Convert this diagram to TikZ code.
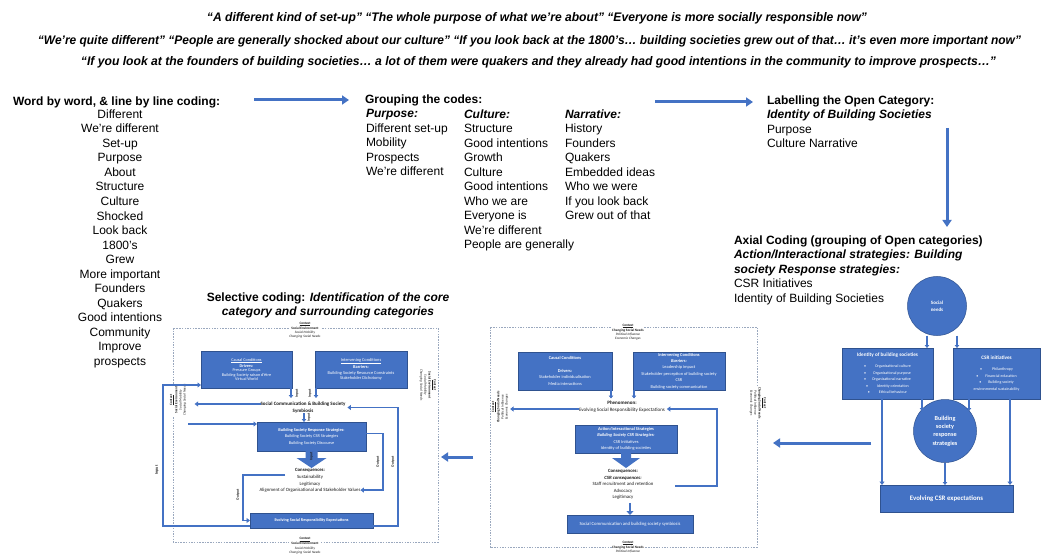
\documentclass[tikz,border=0pt]{standalone}
\usepackage{fontspec}
\usepackage{graphicx}
\setmainfont{Liberation Sans}
\newfontfamily\calfont{Carlito}
\usetikzlibrary{arrows.meta}

\definecolor{boxblue}{HTML}{4472C4}
\definecolor{boxedge}{HTML}{2F528F}
\definecolor{framegray}{HTML}{9AA8BE}
\definecolor{inkgray}{HTML}{1A1A1A}

% one interview quotation, set to a given width
\newcommand{\quoteline}[2]{\resizebox{#1}{9pt}{\bfseries\itshape #2}}

\tikzset{
  every node/.style={inner sep=0pt, outer sep=0pt},
  bodytext/.style={font=\fontsize{12}{14.5}\selectfont, align=left, anchor=north west},
  stagearrow/.style={draw=boxblue, line width=3pt, -{Triangle[length=7pt,width=9pt]}},
  flow/.style={draw=boxblue, line width=1.6pt, -{Triangle[length=3.5pt,width=5pt]}},
  shortflow/.style={draw=boxblue, line width=1.4pt, -{Triangle[length=3pt,width=4.5pt]}},
  bluebox/.style={draw=boxedge, fill=boxblue, line width=0.5pt, text=white, align=center},
  bluedisc/.style={circle, draw=boxedge, fill=boxblue, line width=0.5pt, text=white, align=center},
  codeframe/.style={draw=framegray, line width=0.5pt, dash pattern=on 1.5pt off 1.2pt},
  ctx/.style={font=\calfont\fontsize{3.4}{4.1}\selectfont, align=center, fill=white, inner sep=0.4pt, text=inkgray},
  flowtag/.style={font=\calfont\bfseries\fontsize{3.6}{4}\selectfont, text=inkgray, rotate=90},
  smalltext/.style={font=\calfont\fontsize{4.8}{6.6}\selectfont, align=center, text=inkgray},
}

\begin{document}
\begin{tikzpicture}[x=1pt,y=-1pt]
\fill[white] (0,0) rectangle (1042,556);
\useasboundingbox (0,0) rectangle (1042,556);

% ---------------- interview quotations ----------------
\node[anchor=base] (q1) at (537,22) {\quoteline{660pt}{“A different kind of set-up” “The whole purpose of what we’re about” “Everyone is more socially responsible now”}};
\node[anchor=base] (q2) at (529.5,45) {\quoteline{983pt}{“We’re quite different” “People are generally shocked about our culture” “If you look back at the 1800’s… building societies grew out of that… it’s even more important now”}};
\node[anchor=base] (q3) at (538.5,65.5) {\quoteline{915pt}{“If you look at the founders of building societies… a lot of them were quakers and they already had good intentions in the community to improve prospects…”}};

% ---------------- open coding ----------------
\node[anchor=base west, font=\fontsize{12}{14.5}\selectfont\bfseries] (wtitle) at (13,105.3) {Word by word, \& line by line coding:};
\node[font=\fontsize{12}{14.55}\selectfont, align=center, anchor=north] (words) at (120,109.5)
  {Different\\We’re different\\Set-up\\Purpose\\About\\Structure\\Culture\\Shocked\\Look back\\1800’s\\Grew\\More important\\Founders\\Quakers\\Good intentions\\Community\\Improve\\prospects};

\node[anchor=base west, font=\fontsize{12}{14.5}\selectfont\bfseries] (gtitle) at (365,103.8) {Grouping the codes:};
\node[bodytext] (purpose) at (366,109.6) {\textbf{\textit{Purpose:}}\\Different set-up\\Mobility\\Prospects\\We’re different};
\node[bodytext] (culture) at (464,109.6) {\textbf{\textit{Culture:}}\\Structure\\Good intentions\\Growth\\Culture\\Good intentions\\Who we are\\Everyone is\\We’re different\\People are generally};
\node[bodytext] (narrative) at (565,109.6) {\textbf{\textit{Narrative:}}\\History\\Founders\\Quakers\\Embedded ideas\\Who we were\\If you look back\\Grew out of that};

\node[bodytext] (ltitle) at (767,95.5) {\textbf{Labelling the Open Category:}\\\textbf{\textit{Identity of Building Societies}}\\Purpose\\Culture Narrative};

\node[bodytext] (atext) at (734,235.5) {\textbf{Axial Coding (grouping of Open categories)}\\\textbf{\textit{Action/Interactional strategies: Building}}\\\textbf{\textit{society Response strategies:}}\\CSR Initiatives\\Identity of Building Societies};

\node[font=\fontsize{12}{14}\selectfont, align=center, anchor=north] (stitle) at (328,292.5) {\textbf{Selective coding: \textit{Identification of the core}}\\\textbf{\textit{category and surrounding categories}}};

% ---------------- arrows between the coding stages ----------------
\coordinate (s1a) at (254,100); \coordinate (s1b) at (349,100);
\coordinate (s2a) at (655,102); \coordinate (s2b) at (753,102);
\coordinate (s3a) at (947,128); \coordinate (s3b) at (947,227);
\coordinate (s4a) at (871,443); \coordinate (s4b) at (773,443);
\coordinate (s5a) at (473,457); \coordinate (s5b) at (441,457);
\draw[stagearrow] (s1a) -- (s1b);
\draw[stagearrow] (s2a) -- (s2b);
\draw[stagearrow] (s3a) -- (s3b);
\draw[stagearrow] (s4a) -- (s4b);
\draw[stagearrow] (s5a) -- (s5b);

% ---------------- axial coding model ----------------
\node[bluedisc, minimum size=59pt, font=\calfont\bfseries\fontsize{5}{7}\selectfont] (needs) at (937,306) {Social\\needs};
\node[bluebox, minimum width=91pt, minimum height=51pt, font=\calfont\fontsize{4}{6.5}\selectfont] (idbox) at (887.5,373.5)
  {{\bfseries\fontsize{5.2}{6.5}\selectfont Identity of building societies}\\[4.5pt]
   •\hspace{9pt}Organisational culture\\
   •\hspace{7pt}Organisational purpose\\
   •\hspace{6pt}Organisational narrative\\
   •\hspace{9pt}Identity orientation\\
   •\hspace{9pt}Ethical behaviour};
\node[bluebox, minimum width=87pt, minimum height=51pt, font=\calfont\fontsize{4}{6.5}\selectfont] (csrbox) at (996.5,373.5)
  {{\bfseries\fontsize{5.2}{6.5}\selectfont CSR initiatives}\\[4.5pt]
   •\hspace{10pt}Philanthropy\\
   •\hspace{7pt}Financial education\\
   •\hspace{7pt}Building society\\
   environmental sustainability};
\node[bluedisc, minimum size=63pt, font=\calfont\bfseries\fontsize{6.2}{8.3}\selectfont] (bsresp) at (945,431) {Building\\society\\response\\strategies};
\node[bluebox, minimum width=133pt, minimum height=27pt, font=\calfont\bfseries\fontsize{6.8}{8}\selectfont] (csrexp) at (946.5,498.5) {Evolving CSR expectations};

\draw[shortflow] ([xshift=-10pt]needs.south) -- ([xshift=-10pt]needs.south |- idbox.north);
\draw[shortflow] ([xshift=20pt]needs.south) -- ([xshift=20pt]needs.south |- csrbox.north);
\draw[shortflow] ([xshift=34.5pt]idbox.south) -- ++(0,12);
\draw[shortflow] ([xshift=-27.5pt]csrbox.south) -- ++(0,12);
\draw[flow] ([xshift=-5.5pt]idbox.south) -- ([xshift=-5.5pt]idbox.south |- csrexp.north);
\draw[flow] ([xshift=13.5pt]csrbox.south) -- ([xshift=13.5pt]csrbox.south |- csrexp.north);
\draw[shortflow] (bsresp.south) -- (bsresp.south |- csrexp.north);

% ---------------- paradigm model: CSR expectations ----------------
\draw[codeframe] (490,327) rectangle (757,547);
\node[ctx] (mctxtop) at (628,332) {\textbf{\underline{Context}}\\\textbf{Changing Social Needs}\\\textit{Political Influence}\\\textit{Economic Changes}};
\node[ctx] (mctxbot) at (628,547) {\textbf{\underline{Context}}\\\textbf{Changing Social Needs}\\\textit{Political Influence}};
\node[ctx, rotate=90] (mctxleft) at (500,407) {\textbf{\underline{Context}}\\\textbf{Changing Social Needs}\\\textit{Political Influence}\\\textit{Economic Changes}};
\node[ctx, rotate=-90] (mctxright) at (758,403) {\textbf{\underline{Context}}\\\textbf{Changing Social Needs}\\\textit{Political Influence}\\\textit{Economic Changes}};

\node[bluebox, minimum width=94pt, minimum height=38pt, font=\calfont\fontsize{4.4}{6.4}\selectfont] (mcausal) at (565,371)
  {\textbf{Causal Conditions}\\[6.4pt]\textbf{Drivers:}\\Stakeholder individualisation\\Media interactions};
\node[bluebox, minimum width=92pt, minimum height=38pt, font=\calfont\fontsize{4.4}{6.4}\selectfont] (minterv) at (679,371)
  {\textbf{Intervening Conditions}\\\textbf{\textit{Barriers:}}\\Leadership impact\\Stakeholder perception of building society\\CSR\\Building society communication};
\draw[shortflow] ([xshift=-1pt]mcausal.south east) -- ++(0,8.5);
\draw[shortflow] ([xshift=1pt]minterv.south west) -- ++(0,8.5);

\node[smalltext, font=\calfont\fontsize{5}{7}\selectfont] (mphen) at (622,406.5) {\textbf{Phenomenon:}\\Evolving Social Responsibility Expectations};
\draw[flow] ([yshift=-2.5pt]mphen.west) -- ++(-69,0);

\node[bluebox, minimum width=102pt, minimum height=28pt, font=\calfont\fontsize{4.4}{6.4}\selectfont] (maction) at (626,439)
  {\textbf{Action/Interactional Strategies}\\\textbf{\textit{Building Society CSR Strategies:}}\\CSR Initiatives\\Identity of building societies};
\fill[boxblue] ([xshift=-5pt]maction.south) -- ++(10,0) -- ++(0,5) -- ++(9,0) -- ++(-14,10) -- ++(-14,-10) -- ++(9,0) -- cycle;

\node[smalltext, anchor=north, font=\calfont\fontsize{4.8}{6.5}\selectfont] (mcons) at (623,469.8)
  {\textbf{Consequences:}\\\textbf{\textit{CSR consequences:}}\\Staff recruitment and retention\\Advocacy\\Legitimacy};
\coordinate (mconsout) at (675,486);
\draw[flow] (mconsout) -- ++(42,0) |- ([xshift=2pt,yshift=-2.5pt]mphen.east);

\node[bluebox, minimum width=126pt, minimum height=18pt, font=\calfont\fontsize{4.7}{6}\selectfont] (msoc) at (630,524) {Social Communication and building society symbiosis};
\draw[draw=boxblue, line width=2.6pt, -{Triangle[length=4pt,width=7pt]}] ([xshift=7pt]mcons.south) ++(0,3) -- ([xshift=7pt]mcons.south |- msoc.north);

% ---------------- paradigm model: core category ----------------
\draw[codeframe] (173,328) rectangle (438,542);
\node[ctx] (lctxtop) at (305,330) {\textbf{\underline{Context}}\\\textbf{Social Environment}\\\textit{Social Mobility}\\\textit{Changing Social Needs}};
\node[ctx] (lctxbot) at (305,545.5) {\textbf{\underline{Context}}\\\textbf{Social Environment}\\\textit{Social Mobility}\\\textit{Changing Social Needs}};
\node[ctx, rotate=90] (lctxleft) at (178,400) {\textbf{\underline{Context}}\\\textbf{Social Environment}\\\textit{Social Mobility}\\\textit{Changing Social Needs}};
\node[ctx, rotate=-90] (lctxright) at (428,385) {\textbf{\underline{Context}}\\\textbf{Social Environment}\\\textit{Social Mobility}\\\textit{Changing Social Needs}};

\node[bluebox, minimum width=91pt, minimum height=37pt, font=\calfont\fontsize{4.2}{4.6}\selectfont] (lcausal) at (246.5,369.5)
  {\underline{Causal Conditions}\\\textbf{Drivers:}\\Pressure Groups\\Building Society raison d’être\\Virtual World};
\node[bluebox, minimum width=92pt, minimum height=37pt, font=\calfont\fontsize{4.4}{5.8}\selectfont] (linterv) at (361,369.5)
  {\underline{Intervening Conditions}\\\textbf{Barriers:}\\Building Society Resource Constraints\\Stakeholder Dichotomy};
\draw[shortflow] ([xshift=-1pt]lcausal.south east) -- ++(0,10);
\draw[shortflow] ([xshift=1pt]linterv.south west) -- ++(0,10);
\node[flowtag] (tin1) at (297,393) {Input};
\node[flowtag] (tin2) at (310,393) {Input};

\node[smalltext, font=\calfont\bfseries\fontsize{5}{7}\selectfont] (lsym) at (303,407.5) {Social Communication \& Building Society\\Symbiosis};
\draw[flow] ([yshift=3.5pt]lsym.west) -- ++(-66,0);

\node[bluebox, minimum width=109pt, minimum height=29pt, font=\calfont\fontsize{4.3}{6.5}\selectfont] (lresp) at (311.5,436.5)
  {\textbf{Building Society Response Strategies:}\\Building Society CSR Strategies\\Building Society Discourse};
\draw[shortflow] ([xshift=1pt]lsym.south) -- ([xshift=1pt]lsym.south |- lresp.north);
\node[flowtag] (tin3) at (309,417) {Input};
\coordinate (lenvin) at (188,424);
\draw[flow] (lenvin) -- (lenvin -| lresp.west);

\fill[boxblue] ([xshift=-6pt]lresp.south) -- ++(12,0) -- ++(0,7) -- ++(9,0) -- ++(-15,10) -- ++(-15,-10) -- ++(9,0) -- cycle;
\node[flowtag] (tin4) at (311.5,456) {Input};

\node[smalltext, anchor=north] (lcons) at (310,468.8)
  {\textbf{Consequences:}\\Sustainability\\Legitimacy\\Alignment of Organisational and Stakeholder Values};

\node[bluebox, minimum width=123pt, minimum height=15pt, font=\calfont\bfseries\fontsize{4.2}{5}\selectfont] (levolve) at (311.5,520.5) {Evolving Social Responsibility Expectations};

\draw[flow] ([yshift=3pt]lresp.east) -- ++(17,0) |- ([yshift=2.5pt]lcons.south east);
\node[flowtag] (tout1) at (378,462) {Output};
\draw[flow] ([yshift=2pt]levolve.south east) -- ++(25,0) |- ([xshift=2pt]lsym.east);
\node[flowtag] (tout2) at (393,462) {Output};
\coordinate (lconsout) at (285,475);
\draw[flow] (lconsout) -- ++(-42,0) |- (levolve.west);
\node[flowtag] (tout3) at (238,495) {Output};
\draw[flow] ([yshift=2pt]levolve.south west) -- ++(-87,0) |- ([yshift=3pt]lcausal.south west);
\node[flowtag, font=\calfont\bfseries\fontsize{4}{4.5}\selectfont] (tin5) at (157,470) {Input};

\end{tikzpicture}
\end{document}
